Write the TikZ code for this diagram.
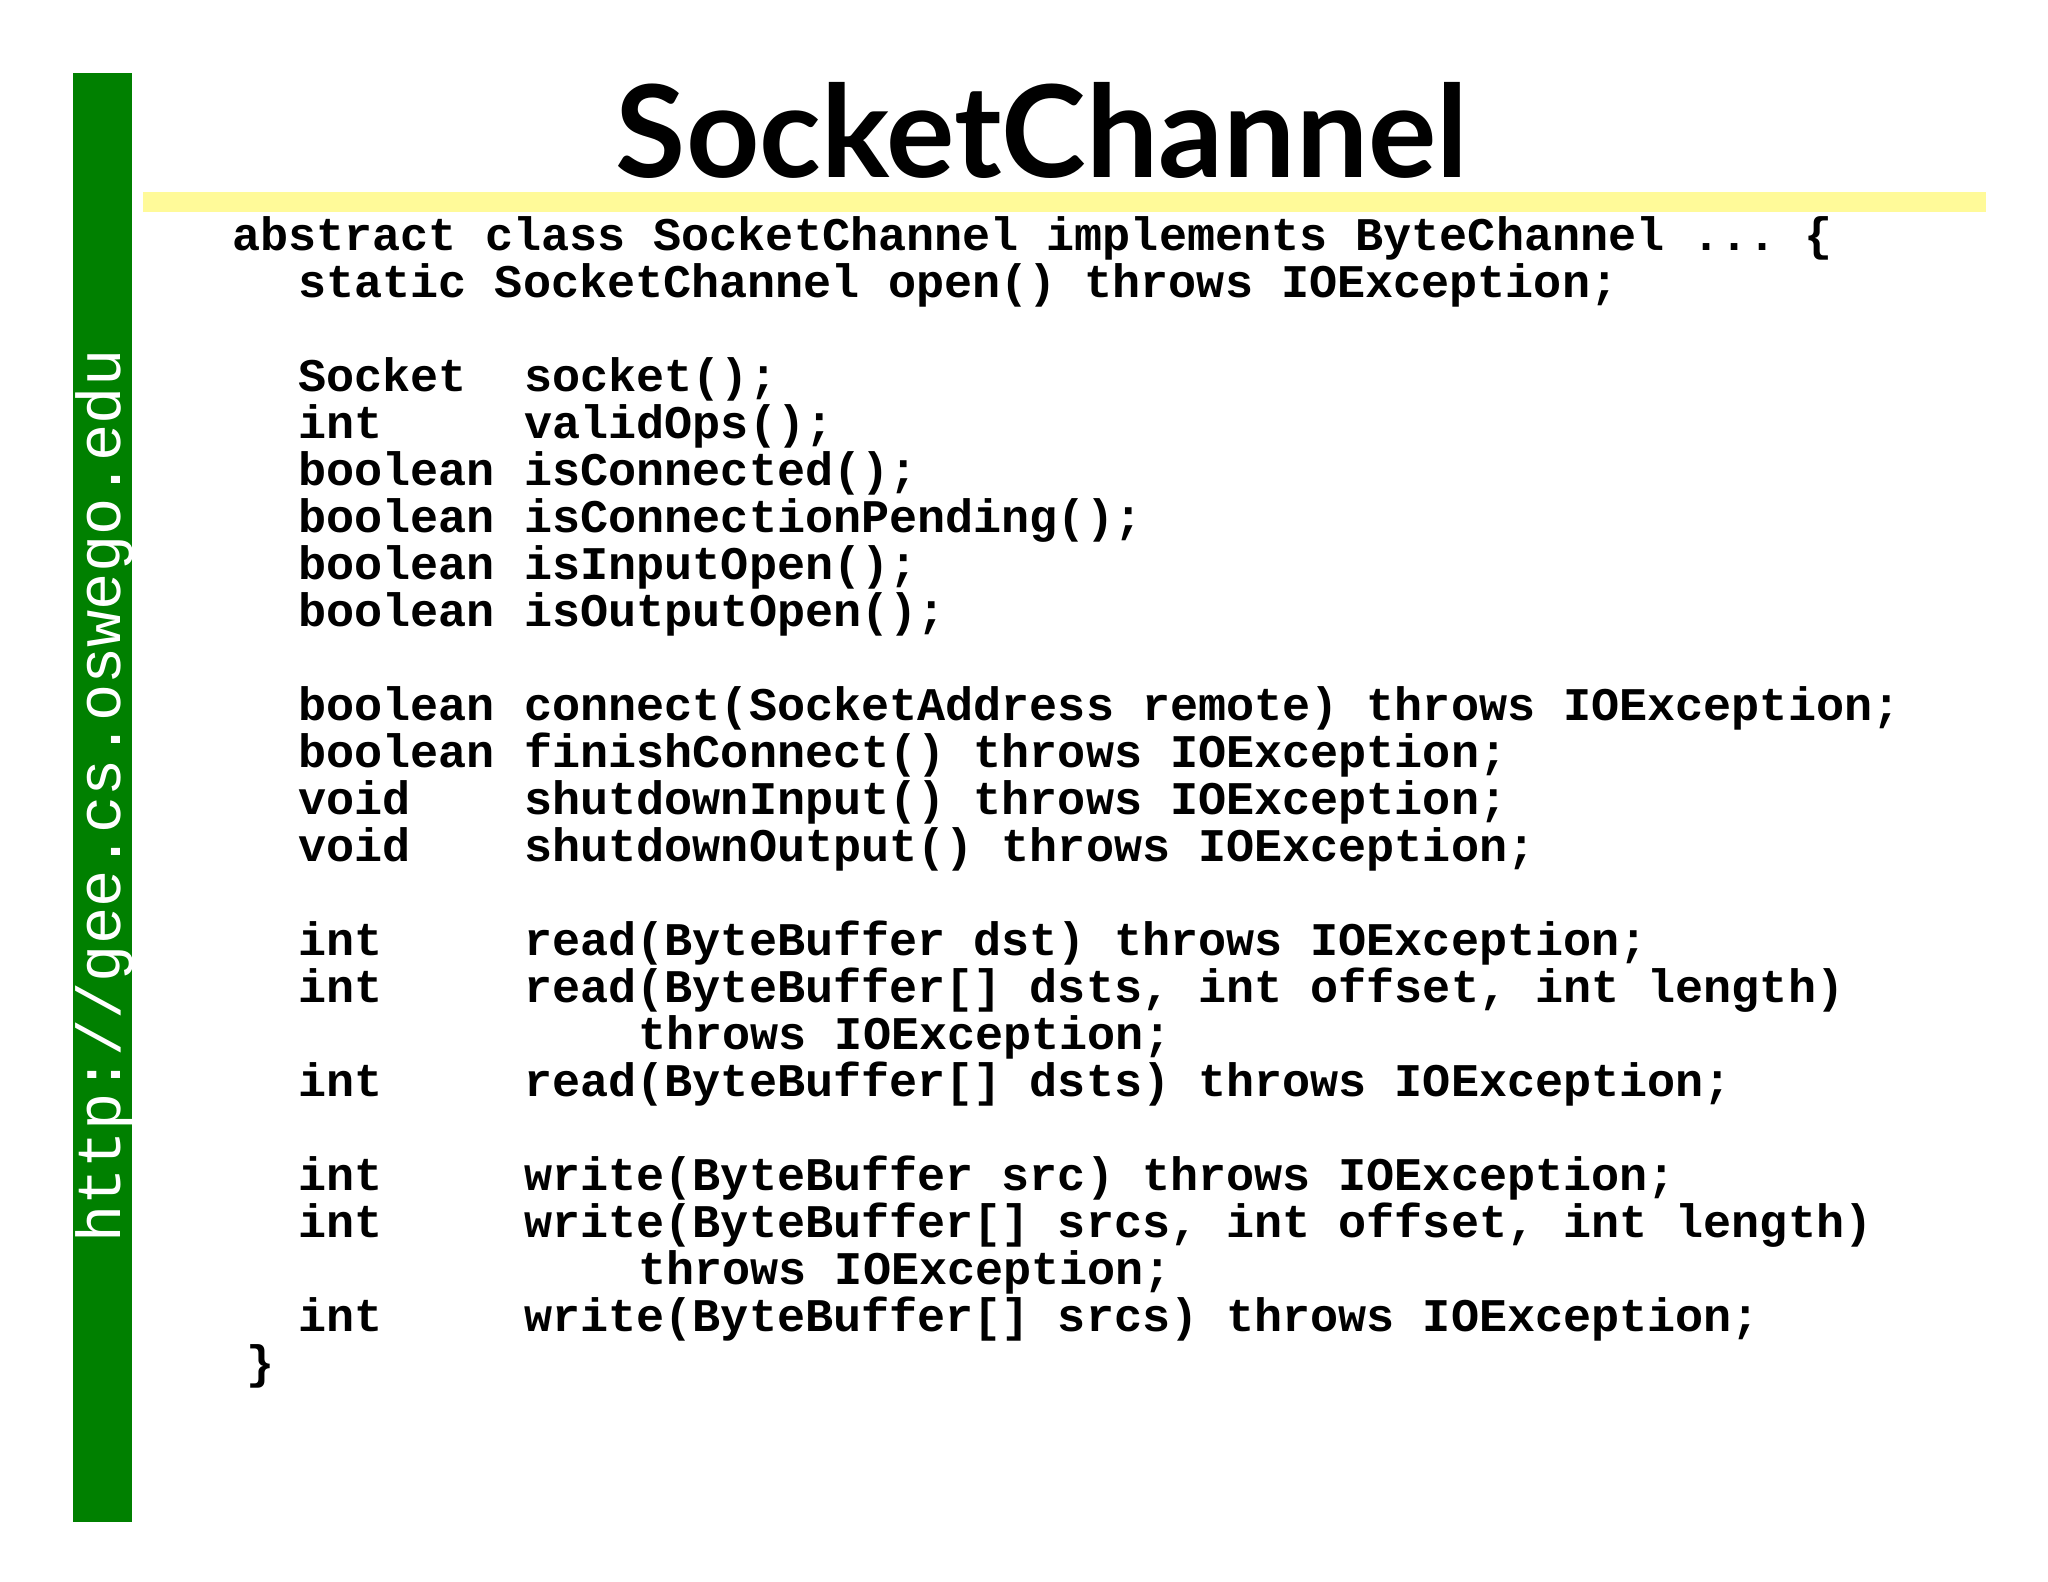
\documentclass[tikz,border=0pt]{standalone}
\usepackage{fontspec}
\setmonofont{Liberation Mono}
\newfontfamily\titlefont{Lato}
\begin{document}
\begin{tikzpicture}[x=1pt,y=1pt,
  code/.style={anchor=base west,inner sep=0,font=\ttfamily\bfseries\fontsize{23.4}{26}\selectfont}]
\useasboundingbox (0,0) rectangle (1024,-791);
\fill[white] (0,0) rectangle (1024,-791);
\fill[green!50!black] (36.3,-36.3) rectangle (66,-761);
\fill[yellow!40] (71.3,-96) rectangle (993,-106);
\node[anchor=base,inner sep=0,font=\titlefont\bfseries\fontsize{64}{70}\selectfont] (title) at (521,-89) {SocketChannel};
\node[rotate=90,text=white,inner sep=0,font=\ttfamily\fontsize{31}{34}\selectfont] (url) at (52,-398) {http://gee.cs.oswego.edu};
\def\Y#1{-(190+35.6*#1)*0.66}
\node[code] (l0) at (116,{\Y{0}}) {abstract class SocketChannel implements ByteChannel ... \{};
\node[code] (l1) at (149,{\Y{1}}) {static SocketChannel open() throws IOException;};
\foreach \k/\t/\m in {3/Socket/socket();,4/int/validOps();,5/boolean/isConnected();,6/boolean/isConnectionPending();,7/boolean/isInputOpen();,8/boolean/isOutputOpen();,
 10/boolean/connect(SocketAddress remote) throws IOException;,11/boolean/finishConnect() throws IOException;,12/void/shutdownInput() throws IOException;,13/void/shutdownOutput() throws IOException;,
 15/int/read(ByteBuffer dst) throws IOException;,16/int/{read(ByteBuffer[] dsts, int offset, int length)},18/int/read(ByteBuffer[] dsts) throws IOException;,
 20/int/write(ByteBuffer src) throws IOException;,21/int/{write(ByteBuffer[] srcs, int offset, int length)},23/int/write(ByteBuffer[] srcs) throws IOException;}{
  \node[code] (t\k) at (149,{\Y{\k}}) {\t};
  \node[code] (m\k) at (262,{\Y{\k}}) {\m};
}
\node[code] (c17) at (319,{\Y{17}}) {throws IOException;};
\node[code] (c22) at (319,{\Y{22}}) {throws IOException;};
\node[code] (end) at (123,{\Y{24}}) {\}};
\end{tikzpicture}
\end{document}
